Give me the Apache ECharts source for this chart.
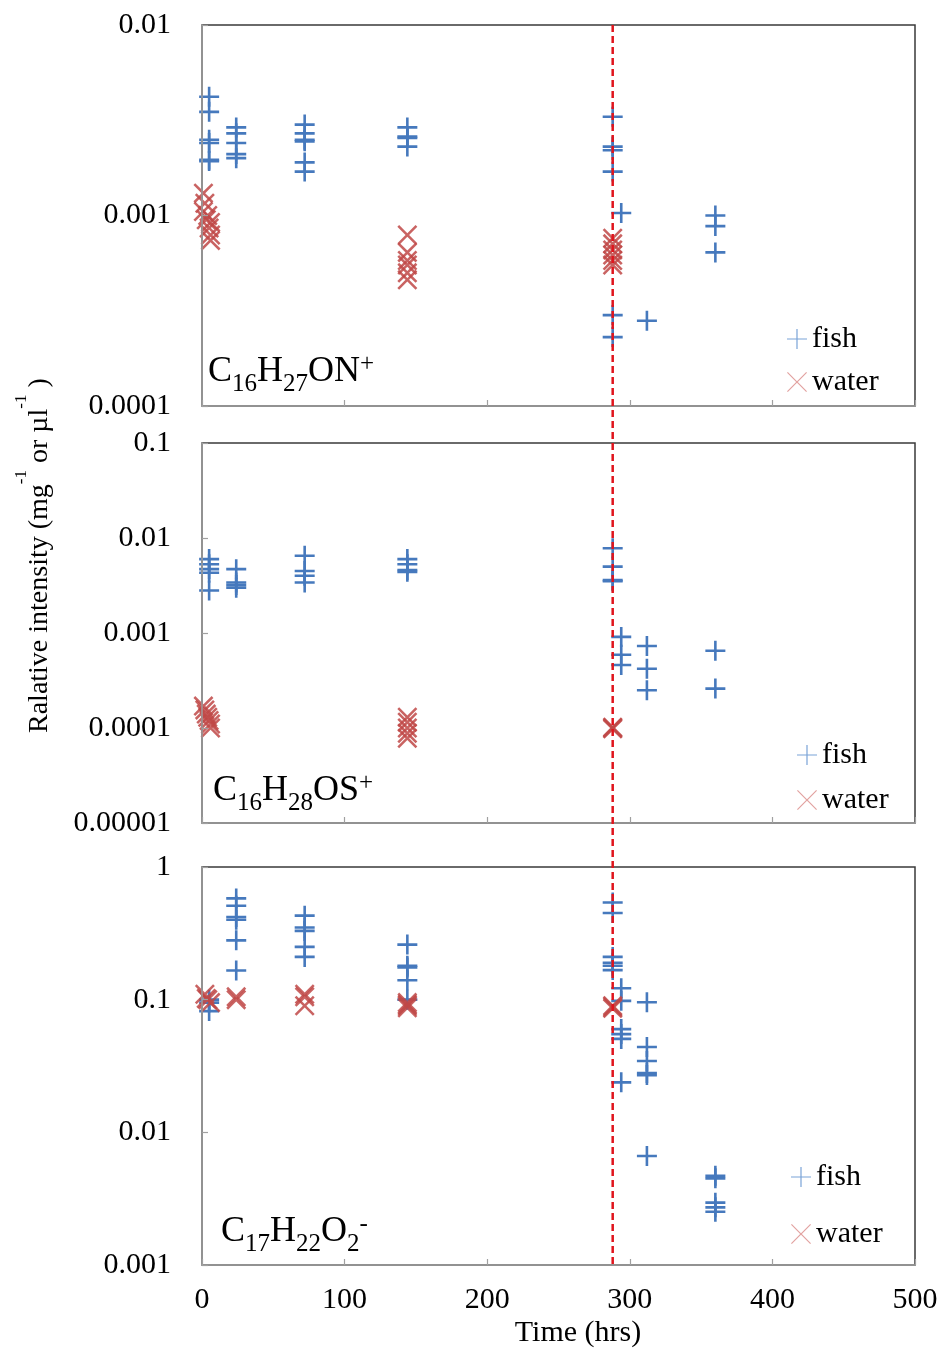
<!DOCTYPE html>
<html>
<head>
<meta charset="utf-8">
<script src="https://cdn.jsdelivr.net/npm/echarts@6/dist/echarts.min.js"></script>
<style>
  html, body { margin: 0; padding: 0; background: #fff; }
  #chart { width: 942px; height: 1352px; }
</style>
</head>
<body>
<div id="chart"></div>
<script>
// ---- time axis (hours) ----
const timeTicks = ['0', '100', '200', '300', '400', '500'];
const markerTime = 288;

// ---- C16H27ON+ ----
const yTicks1 = ['0.0001', '0.001', '0.01'];
const fishTime1 = [5, 5, 5, 5, 5, 5, 24, 24, 24, 24, 24, 72, 72, 72, 72, 72, 72, 144, 144, 144, 144,
  288, 288, 288, 288, 288, 288, 294, 312, 360, 360, 360];
const fishVal1 = [0.0042, 0.0035, 0.0025, 0.0024, 0.00196, 0.00193,
  0.0029, 0.0027, 0.0024, 0.0021, 0.0020,
  0.0030, 0.0027, 0.0025, 0.00245, 0.0019, 0.0017,
  0.0029, 0.0026, 0.00255, 0.0023,
  0.0033, 0.0023, 0.0022, 0.0017, 0.00030, 0.00023,
  0.00103, 0.00028, 0.0010, 0.00088, 0.00064];
const waterTime1 = [1, 1, 2, 3, 4, 5, 6, 6, 6, 144, 144, 144, 144, 144, 144, 288, 288, 288, 288, 288, 288];
const waterVal1 = [0.00131, 0.00105, 0.00116, 0.00095, 0.0010, 0.00086, 0.00092, 0.00079, 0.00074,
  0.00079, 0.00064, 0.00058, 0.00055, 0.00050, 0.00046,
  0.00076, 0.00071, 0.00066, 0.00062, 0.00058, 0.00055];

// ---- C16H28OS+ ----
const yTicks2 = ['0.00001', '0.0001', '0.001', '0.01', '0.1'];
const fishTime2 = [5, 5, 5, 5, 5, 24, 24, 24, 24, 72, 72, 72, 72, 144, 144, 144, 144,
  288, 288, 288, 288, 294, 294, 294, 312, 312, 312, 360, 360];
const fishVal2 = [0.0060, 0.0053, 0.0047, 0.0043, 0.0028,
  0.0047, 0.0034, 0.0032, 0.0030,
  0.0065, 0.0045, 0.0040, 0.0034,
  0.0060, 0.0053, 0.0046, 0.0044,
  0.0078, 0.0050, 0.0036, 0.0035,
  0.00091, 0.00059, 0.00046,
  0.00073, 0.00042, 0.00025,
  0.00065, 0.00026];
const waterTime2 = [1, 2, 3, 4, 5, 6, 6, 144, 144, 144, 144, 144, 288, 288, 288];
const waterVal2 = [0.00017, 0.000155, 0.00014, 0.00013, 0.00012, 0.00011, 0.0001,
  0.00013, 0.000115, 0.0001, 0.000088, 0.000078,
  0.000102, 0.0001, 0.000098];

// ---- C17H22O2- ----
const yTicks3 = ['0.001', '0.01', '0.1', '1'];
const fishTime3 = [5, 5, 5, 24, 24, 24, 24, 24, 24, 72, 72, 72, 72, 72, 144, 144, 144, 144, 144,
  288, 288, 288, 288, 288, 288, 294, 294, 294, 294, 294, 294, 312, 312, 312, 312, 312, 312,
  360, 360, 360, 360, 360];
const fishVal3 = [0.1, 0.095, 0.082,
  0.58, 0.51, 0.42, 0.40, 0.28, 0.166,
  0.43, 0.35, 0.33, 0.25, 0.21,
  0.26, 0.18, 0.175, 0.14, 0.1,
  0.54, 0.45, 0.21, 0.19, 0.18, 0.167,
  0.122, 0.098, 0.060, 0.055, 0.0506, 0.0238,
  0.0956, 0.044, 0.0345, 0.028, 0.027, 0.00664,
  0.0047, 0.0045, 0.00295, 0.00272, 0.00252];
const waterTime3 = [2, 3, 4, 6, 24, 24, 72, 72, 72, 144, 144, 144, 144, 288, 288, 288];
const waterVal3 = [0.11, 0.102, 0.10, 0.095, 0.105, 0.10, 0.11, 0.105, 0.09,
  0.095, 0.09, 0.087, 0.092, 0.09, 0.088, 0.086];

const FONT = '"Liberation Serif", "Times New Roman", "DejaVu Serif", serif';
const FISH = '#4679bd';
const WATER = 'rgba(192, 72, 70, 0.85)';

// marker shapes (20x20 boxes)
const PLUS = 'path://M8.7,0h2.6v8.7h8.7v2.6h-8.7v8.7h-2.6v-8.7h-8.7v-2.6h8.7z';
const CROSS = 'path://M0,1.8L1.8,0L10,8.2L18.2,0L20,1.8L11.8,10L20,18.2L18.2,20L10,11.8L1.8,20L0,18.2L8.2,10z';
const PLUS_THIN = 'path://M9.4,0h1.2v9.4h9.4v1.2h-9.4v9.4h-1.2v-9.4h-9.4v-1.2h9.4z';
const CROSS_THIN = 'path://M0,0.85L0.85,0L10,9.15L19.15,0L20,0.85L10.85,10L20,19.15L19.15,20L10,10.85L0.85,20L0,19.15L9.15,10z';

const zip = (t, v) => t.map((x, i) => [x, v[i]]);

const grids = [
  { left: 202, top: 25, width: 713, height: 381 },
  { left: 202, top: 443, width: 713, height: 380 },
  { left: 202, top: 867, width: 713, height: 398 }
].map(g => Object.assign(g, { show: true, borderColor: '#3a3a3a', borderWidth: 1.5, backgroundColor: 'transparent' }));

const yRanges = [[0.0001, 0.01, yTicks1], [0.00001, 0.1, yTicks2], [0.001, 1, yTicks3]];

const xAxes = [0, 1, 2].map(i => ({
  type: 'value', gridIndex: i, min: 0, max: 500, interval: 100, z: 3,
  axisLine: { show: true, onZero: false, lineStyle: { color: '#a0a0a0', width: 1.5 } },
  axisTick: { show: true, inside: true, length: 6, lineStyle: { color: '#a0a0a0', width: 1.2 } },
  splitLine: { show: false },
  axisLabel: {
    show: i === 2, margin: 20, fontSize: 30, fontFamily: FONT, color: '#000',
    formatter: v => timeTicks[Math.round(v / 100)]
  }
}));

const yAxes = yRanges.map(([mn, mx, ticks], i) => ({
  type: 'log', logBase: 10, gridIndex: i, min: mn, max: mx, z: 3,
  axisLine: { show: true, lineStyle: { color: '#a0a0a0', width: 1.5 } },
  axisTick: { show: true, inside: true, length: 6, lineStyle: { color: '#a0a0a0', width: 1.2 } },
  splitLine: { show: false },
  minorTick: { show: false },
  axisLabel: {
    margin: 31, fontSize: 30, fontFamily: FONT, color: '#000',
    formatter: v => ticks[Math.round(Math.log10(v) - Math.log10(mn))]
  }
}));

function scatter(name, i, t, v, symbol, color) {
  return {
    type: 'scatter', name, xAxisIndex: i, yAxisIndex: i,
    data: zip(t, v), symbol, symbolSize: 20,
    itemStyle: { color, opacity: 1 },
    emphasis: { disabled: true }, z: 2
  };
}

const series = [
  scatter('fish', 0, fishTime1, fishVal1, PLUS, FISH),
  scatter('water', 0, waterTime1, waterVal1, CROSS, WATER),
  scatter('fish', 1, fishTime2, fishVal2, PLUS, FISH),
  scatter('water', 1, waterTime2, waterVal2, CROSS, WATER),
  scatter('fish', 2, fishTime3, fishVal3, PLUS, FISH),
  scatter('water', 2, waterTime3, waterVal3, CROSS, WATER)
];

const legendPos = [[782, 319, 13], [792, 735, 15], [786, 1157, 27]];
const legends = legendPos.map(([l, t, gap]) => ({
  left: l, top: t, orient: 'vertical', itemGap: gap, itemWidth: 20, itemHeight: 20,
  selectedMode: false,
  textStyle: { fontSize: 30, fontFamily: FONT, color: '#000' },
  data: [
    { name: 'fish', icon: PLUS_THIN, itemStyle: { color: '#7aa3d8' } },
    { name: 'water', icon: CROSS_THIN, itemStyle: { color: '#e2a2a0' } }
  ]
}));

const formulaRich = {
  m: { fontSize: 36, fontFamily: FONT, fill: '#000', lineHeight: 50, verticalAlign: 'middle' },
  b: { fontSize: 25, fontFamily: FONT, fill: '#000', lineHeight: 25, verticalAlign: 'bottom' },
  p: { fontSize: 25, fontFamily: FONT, fill: '#000', verticalAlign: 'top', padding: [5, 0, 0, 0] }
};
function formula(x, y, text) {
  return { type: 'text', x, y, z: 5, style: { text, rich: formulaRich, align: 'left', verticalAlign: 'middle' } };
}

const chart = echarts.init(document.getElementById('chart'), null, { renderer: 'canvas' });
chart.setOption({
  animation: false,
  backgroundColor: '#fff',
  grid: grids,
  xAxis: xAxes,
  yAxis: yAxes,
  legend: legends,
  series
});

// vertical marker spanning all three panels
const lx = chart.convertToPixel({ xAxisIndex: 0 }, markerTime);
const ly0 = chart.convertToPixel({ yAxisIndex: 0 }, yRanges[0][1]);
const ly1 = chart.convertToPixel({ yAxisIndex: 2 }, yRanges[2][0]);

chart.setOption({
  graphic: [
    formula(208, 372, '{m|C}{b|16}{m|H}{b|27}{m|ON}{p|+}'),
    formula(213, 791, '{m|C}{b|16}{m|H}{b|28}{m|OS}{p|+}'),
    formula(221, 1232, '{m|C}{b|17}{m|H}{b|22}{m|O}{b|2}{p|-}'),
    {
      type: 'text', x: 40, y: 733, rotation: Math.PI / 2, z: 5,
      style: {
        text: '{t|Ralative intensity (mg}{s|-1}{t| or }{t|µl}{s|-1}{t| )}',
        align: 'left', verticalAlign: 'middle',
        rich: {
          t: { fontSize: 28, fontFamily: FONT, fill: '#000', lineHeight: 54, verticalAlign: 'middle' },
          s: { fontSize: 17, fontFamily: FONT, fill: '#000', lineHeight: 18, verticalAlign: 'top' }
        }
      }
    },
    {
      type: 'text', x: 578, y: 1333, z: 5,
      style: { text: 'Time (hrs)', fontSize: 30, fontFamily: FONT, fill: '#000', align: 'center', verticalAlign: 'middle' }
    },
    {
      type: 'line', z: 10,
      shape: { x1: lx, y1: ly0, x2: lx, y2: ly1 },
      style: { stroke: '#e0141c', lineWidth: 2.5, lineDash: [7, 4] }
    }
  ]
});
</script>
</body>
</html>
